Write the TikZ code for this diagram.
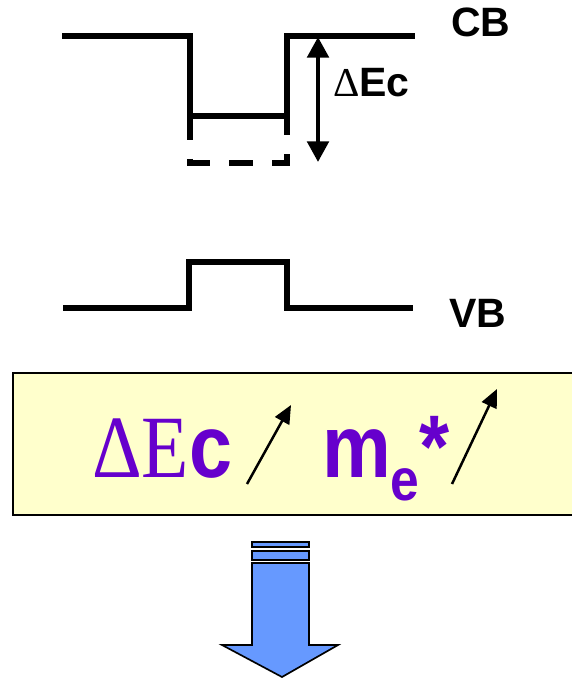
\documentclass[tikz,border=0pt]{standalone}
\usepackage{fontspec}
\setmainfont{Liberation Sans}
\newfontfamily\timesfont{Liberation Serif}
\usetikzlibrary{arrows.meta,positioning}
\definecolor{boxyellow}{HTML}{FFFFCC}
\definecolor{offsetpurple}{HTML}{6600CC}
\definecolor{arrowblue}{HTML}{6699FF}

\begin{document}
\begin{tikzpicture}[
  x=0.3mm, y=-0.3mm,
  band/.style={line width=1.65mm},
  bandlbl/.style={font=\fontsize{35}{35}\selectfont\bfseries, inner sep=0pt, anchor=base west},
  bigtxt/.style={font=\fontsize{66}{66}\selectfont\bfseries, text=offsetpurple, inner sep=0pt, anchor=base west},
  rise/.style={-{Triangle[length=5.5mm,width=4.8mm]}, line width=0.75mm},
  gap/.style={{Triangle[length=6.2mm,width=6.4mm]}-{Triangle[length=6.2mm,width=6.4mm]}, line width=1.3mm}]
\useasboundingbox (0,0) rectangle (571,680);
\draw[band] (62,36) -- (190,36) -- (190,116) -- (287,116) -- (287,36) -- (415,36);
\draw[band, dash pattern=on 7.2mm off 5.7mm] (190,116) -- (190,163) -- (287,163) -- (287,116);
\node[bandlbl] (cb) at (451,37) {CB};
\coordinate (gaptop) at (318,37);
\coordinate (gapbot) at (318,162);
\draw[gap] (gaptop) -- (gapbot);
\node[bandlbl] (dec) at (333,97) {{\mdseries\timesfont Δ}Ec};
\draw[band] (63,308) -- (189,308) -- (189,262) -- (287,262) -- (287,308) -- (413,308);
\node[bandlbl] (vb) at (449,327) {VB};
\draw[fill=boxyellow, line width=0.8mm] (13,373) rectangle (590,515);
\node[bigtxt] (dEc) at (92,477) {\scalebox{1}[1.15]{{\mdseries\timesfont ΔE}c}};
\node[bigtxt] (mstar) at (322,477) {\scalebox{1}[1.15]{m\raisebox{-6mm}{\fontsize{44}{44}\selectfont e}*}};
\coordinate (rise1a) at (247,484);
\coordinate (rise1b) at (291,405);
\coordinate (rise2a) at (452,484);
\coordinate (rise2b) at (497,389);
\draw[rise] (rise1a) -- (rise1b);
\draw[rise] (rise2a) -- (rise2b);
\draw[fill=arrowblue, line width=0.5mm] (252,542) rectangle (309,547);
\draw[fill=arrowblue, line width=0.5mm] (252,551) rectangle (309,560);
\draw[fill=arrowblue, line width=0.5mm] (252,563) -- (309,563) -- (309,645) -- (338,645) -- (282,677) -- (222,645) -- (252,645) -- cycle;
\end{tikzpicture}
\end{document}
